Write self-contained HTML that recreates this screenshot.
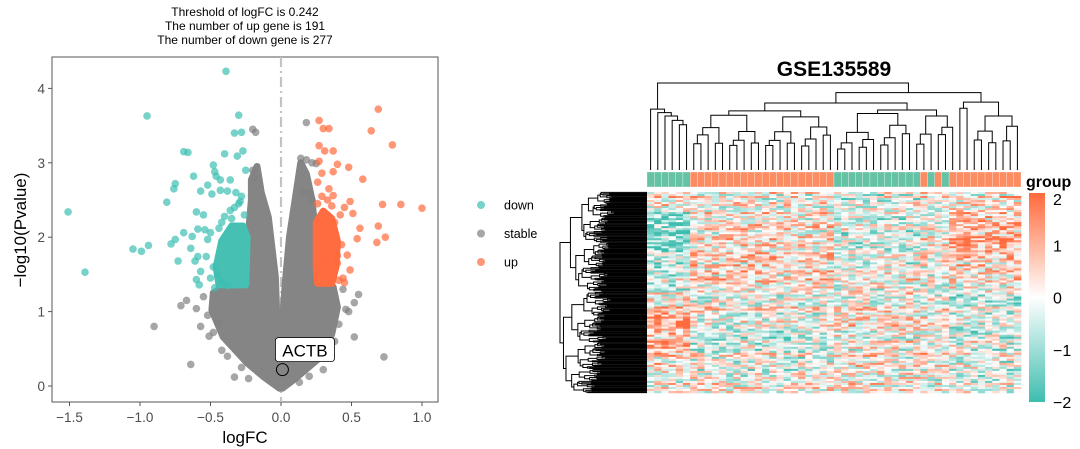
<!DOCTYPE html>
<html><head><meta charset="utf-8">
<style>
html,body{margin:0;padding:0;background:#fff;}
svg{display:block;font-family:"Liberation Sans",Arial,sans-serif;}
</style></head>
<body>
<svg id="root" width="1080" height="449" viewBox="0 0 1080 449" xmlns="http://www.w3.org/2000/svg">
  <rect x="0" y="0" width="1080" height="449" fill="#fff"/>
  <g font-size="12" text-anchor="middle" fill="#000">
    <text x="245" y="16">Threshold of logFC is 0.242</text>
    <text x="245" y="30">The number of up gene is 191</text>
    <text x="245" y="44">The number of down gene is 277</text>
  </g>
  <g id="volcano"></g>
  <text x="834" y="76" font-size="21" font-weight="bold" text-anchor="middle">GSE135589</text>
  <g id="heatmap"></g>
</svg>
<script>
// ---------------- Volcano data ----------------
const downX=[-1.51,-1.39,-0.95,-0.39,-0.30,-0.33,-0.28,-0.69,-0.66,-0.40,-0.27,-0.31,-0.48,-0.47,-0.62,-0.46,-0.43,-0.36,-0.25,-0.75,-0.76,-0.52,-0.57,-0.49,-0.43,-0.38,-0.81,-0.60,-0.55,-1.05,-0.99,-0.94,-0.78,-0.75,-0.69,-0.73,-0.63,-0.64,-0.59,-0.54,-0.50,-0.52,-0.59,-0.53,-0.61,-0.57,-0.60,-0.58,-0.45,-0.48,-0.50,-0.42,-0.35,-0.30,-0.28,-0.32,-0.47,-0.44,-0.40,-0.36,-0.33,-0.29,-0.26,-0.42,-0.38];
const downY=[2.34,1.53,3.63,4.23,3.64,3.40,3.41,3.15,3.14,3.12,3.16,3.09,2.97,2.88,2.82,2.82,2.77,2.77,2.90,2.72,2.65,2.70,2.62,2.58,2.63,2.62,2.47,2.34,2.30,1.84,1.81,1.89,1.91,1.97,2.06,1.68,2.01,1.85,2.11,2.10,2.06,1.97,1.74,1.74,1.68,1.54,1.43,1.36,1.50,1.60,1.45,2.20,2.25,2.45,2.55,2.60,1.32,2.12,2.28,2.36,2.40,2.48,2.30,1.40,1.35];
const upX=[0.69,0.64,0.27,0.30,0.34,0.79,0.27,0.31,0.37,0.27,0.40,0.48,0.29,0.37,0.58,0.26,0.34,0.37,0.72,0.85,1.00,0.69,0.74,0.68,0.49,0.51,0.56,0.54,0.47,0.49,0.40,0.45,0.42,0.45,0.38,0.43,0.40,0.26,0.29,0.33,0.36,0.41,0.44];
const upY=[3.72,3.43,3.57,3.46,3.46,3.24,3.23,3.16,3.16,3.02,2.98,2.94,2.86,2.88,2.78,2.74,2.65,2.56,2.44,2.44,2.39,2.15,2.00,1.93,2.48,2.32,2.12,1.98,1.76,1.56,1.65,1.39,2.30,2.40,2.20,1.90,1.75,2.45,2.55,2.50,2.42,1.42,1.45];
const stableX=[-0.20,-0.18,0.18,0.14,0.18,0.22,0.25,-0.90,-0.64,0.73,0.52,0.55,0.52,0.46,0.41,-0.71,-0.67,-0.60,-0.57,-0.51,-0.48,-0.42,-0.33,-0.23,0.13,0.20,-0.20,-0.19,0.20,0.15,0.22,-0.55,-0.52,-0.45,-0.38,0.44,0.48,0.38,-0.28,0.30];
const stableY=[3.45,3.41,3.54,3.06,3.04,3.00,2.99,0.80,0.29,0.39,0.66,1.23,1.12,1.03,0.83,1.08,1.15,1.04,0.80,0.67,0.72,0.48,0.12,0.10,0.05,0.13,2.90,2.80,2.60,2.60,2.50,1.20,0.95,0.85,0.40,1.30,1.00,0.60,0.25,0.22];
const leftCloudX=[-0.01,-0.12,-0.24,-0.41,-0.49,-0.48,-0.43,-0.30,-0.24,-0.23,-0.21,-0.21,-0.17,-0.14,-0.09,-0.04,-0.03,-0.005];
const leftCloudY=[-0.03,0.12,0.31,0.66,1.02,1.25,1.30,1.33,1.5,2.06,2.5,2.77,2.95,2.6,2.27,1.47,0.93,0.48];
const rightCloudX=[0.01,0.10,0.28,0.36,0.40,0.37,0.26,0.24,0.22,0.18,0.14,0.10,0.06,0.03,0.01,0.005];
const rightCloudY=[-0.03,0.10,0.39,0.70,1.06,1.33,1.40,2.10,2.50,2.85,3.0,2.50,2.00,1.38,0.85,0.40];
const downCloudX=[-0.44,-0.25,-0.24,-0.27,-0.35,-0.42,-0.46];
const downCloudY=[1.36,1.36,2.0,2.15,2.15,1.95,1.60];
const upCloudX=[0.26,0.36,0.39,0.40,0.36,0.30,0.25,0.25];
const upCloudY=[1.38,1.38,1.60,1.95,2.25,2.35,2.20,1.60];
const xTicks=[-1.5,-1.0,-0.5,0.0,0.5,1.0];
const xTickLabels=["\u22121.5","\u22121.0","\u22120.5","0.0","0.5","1.0"];
const yTicks=[0,1,2,3,4];
const yTickLabels=["0","1","2","3","4"];
const legendLabels=["down","stable","up"];
const labelGeneX=[0.01];
const labelGeneY=[0.22];

// ---------------- Heatmap data ----------------
const groupLabels=["teal","teal","teal","teal","teal","teal","o","o","o","o","o","o","o","o","o","o","o","o","o","o","o","o","o","o","o","o","teal","teal","teal","teal","teal","teal","teal","teal","teal","teal","teal","teal","o","teal","o","teal","o","o","o","o","o","o","o","o","o","o"];
const colGroupIndex=[0,0,0,0,0,0,1,1,1,1,1,1,1,1,1,1,1,1,1,1,1,1,1,1,1,1,2,2,2,2,2,2,2,2,2,2,2,2,3,3,3,3,4,4,4,4,4,4,4,4,4,4];
const blockMeans=[
 [0.2,0.1,-0.2,0.0,0.3],
 [-1.3,0.3,-0.3,0.0,0.8],
 [-1.1,0.3,-0.4,0.0,0.9],
 [-0.6,0.4,-0.2,0.0,0.4],
 [-0.5,0.3,0.0,0.0,0.2],
 [0.3,0.0,0.2,0.1,-0.5],
 [1.1,-0.3,0.2,0.0,-0.4],
 [1.0,-0.4,0.1,0.0,-0.3],
 [0.4,-0.2,0.1,0.2,-0.2],
 [0.0,0.0,0.2,0.0,-0.2]
];
const colorbarTicks=[2,1,0,-1,-2];
const colorbarLabels=["2","1","0","\u22121","\u22122"];
const NROWS=100;
const NDENDRO=234;

const NS='http://www.w3.org/2000/svg';
function el(tag,attrs,parent){const e=document.createElementNS(NS,tag);for(const k in attrs)e.setAttribute(k,attrs[k]);parent.appendChild(e);return e;}

// ---------- Volcano ----------
const V=document.getElementById('volcano');
const sx=v=>281+v*141, sy=v=>386-v*74.4;
const box=el('rect',{x:52,y:57,width:386,height:345,fill:'none',stroke:'#555','stroke-width':1},V);


const vline=el('line',{x1:sx(0),x2:sx(0),y1:57,y2:402,stroke:'#c4c4c4','stroke-width':2.2,'stroke-dasharray':'10,4,2,4'},V);


function cloud(xs,ys,color,name){
  const pts=xs.map((x,i)=>sx(x)+','+sy(ys[i])).join(' ');
  const p=el('polygon',{points:pts,fill:color,stroke:color,'stroke-width':7,'stroke-linejoin':'round'},V);
  
  
}
cloud(leftCloudX,leftCloudY,'#858585','stable-cloud-left');
cloud(rightCloudX,rightCloudY,'#858585','stable-cloud-right');
cloud(downCloudX,downCloudY,'#45c0b3','down-cloud');
cloud(upCloudX,upCloudY,'#ff6c40','up-cloud');
function pts(xs,ys,color,name){
  xs.forEach((x,i)=>{
    const c=el('circle',{cx:sx(x),cy:sy(ys[i]),r:3.8,fill:color,'fill-opacity':0.7},V);
    
    
  });
}
pts(stableX,stableY,'#808080','stable-point');
pts(downX,downY,'#3dbfb2','down-point');
pts(upX,upY,'#ff6a3c','up-point');
xTicks.forEach((t,i)=>{
  const l=el('line',{x1:sx(t),x2:sx(t),y1:402,y2:406,stroke:'#555'},V);
  
  
  const tx=el('text',{x:sx(t),y:422,'font-size':13.5,'text-anchor':'middle',fill:'#4d4d4d'},V);
  tx.textContent=xTickLabels[i];
  
  
});
yTicks.forEach((t,i)=>{
  const l=el('line',{x1:48,x2:52,y1:sy(t),y2:sy(t),stroke:'#555'},V);
  
  
  const tx=el('text',{x:45,y:sy(t)+5,'font-size':13.5,'text-anchor':'end',fill:'#4d4d4d'},V);
  tx.textContent=yTickLabels[i];
  
  
});
const xt=el('text',{x:245,y:443,'font-size':17,'text-anchor':'middle'},V);
xt.textContent='logFC';


const yt=el('text',{x:0,y:0,'font-size':17,'text-anchor':'middle',transform:'translate(26,230) rotate(-90)'},V);
yt.textContent='\u2212log10(Pvalue)';


const gx=sx(labelGeneX[0]), gy=sy(labelGeneY[0]);
const gc=el('circle',{cx:gx,cy:gy,r:6,fill:'none',stroke:'#000','stroke-width':1},V);


const lb=el('rect',{x:gx-7,y:gy-32,width:59,height:24,rx:3,fill:'#fff',stroke:'#000','stroke-width':0.8},V);


const lt=el('text',{x:gx+22.5,y:gy-13,'font-size':17,'text-anchor':'middle'},V);
lt.textContent='ACTB';


const legCols=['#3dbfb2','#808080','#ff6a3c'];
legendLabels.forEach((s,i)=>{
  const y=205+i*28.5;
  const c=el('circle',{cx:481,cy:y,r:4,fill:legCols[i],'fill-opacity':0.7},V);
  
  
  const t=el('text',{x:504,y:y+4.5,'font-size':12.5},V);
  t.textContent=s;
  
  
});

// ---------- Heatmap ----------
const H=document.getElementById('heatmap');
const HX0=647,HX1=1021,HY0=192,HY1=393;
const NC=groupLabels.length;
const cw=(HX1-HX0)/NC, rh=(HY1-HY0)/NROWS;
function noise(i,j){let h=(i*374761393+j*668265263)>>>0;h=((h^(h>>>13))*1274126177)>>>0;h=(h^(h>>>16))>>>0;return (h%10000)/5000-1;}
function rowNoise(i){return noise(i,977);}
function colorOf(v){
  v=Math.max(-2,Math.min(2,v));
  let r,g,b;
  if(v>=0){const t=v/2;r=255;g=Math.round(255-t*(255-106));b=Math.round(255-t*(255-60));}
  else{const t=-v/2;r=Math.round(255-t*(255-62));g=Math.round(255-t*(255-189));b=Math.round(255-t*(255-175));}
  return 'rgb('+r+','+g+','+b+')';
}
const cells=el('g',{},H);


for(let i=0;i<NROWS;i++){
  const blk=Math.min(blockMeans.length-1,Math.floor(i/NROWS*blockMeans.length));
  const rb=rowNoise(i)*0.5;
  for(let j=0;j<NC;j++){
    const v=blockMeans[blk][colGroupIndex[j]]+rb+noise(i,j)*1.35;
    const r=el('rect',{x:HX0+j*cw,y:HY0+i*rh,width:cw+0.3,height:rh+0.3,fill:colorOf(v)},cells);
    
    
  }
}
groupLabels.forEach((g,j)=>{
  const r=el('rect',{x:HX0+j*cw,y:172,width:cw,height:15,fill:g==='teal'?'#66c2a5':'#fc8d62',stroke:'#fff','stroke-width':0.3},H);
  
  
});
const gt=el('text',{x:1026,y:187,'font-size':16,'font-weight':'bold'},H);
gt.textContent='group';


const defs=el('defs',{},H);
const lg=el('linearGradient',{id:'cb',x1:0,y1:0,x2:0,y2:1},defs);
[[0,'#ff6a3c'],[0.5,'#ffffff'],[1,'#3ebdaf']].forEach(s=>el('stop',{offset:s[0],'stop-color':s[1]},lg));
const cb=el('rect',{x:1029,y:193,width:16,height:209,fill:'url(#cb)'},H);


colorbarTicks.forEach((t,i)=>{
  let y=193+(2-t)/4*209;
  if(t===2)y=199;
  if(t===-2)y=402;
  const tx=el('text',{x:1053,y:y+6,'font-size':16},H);
  tx.textContent=colorbarLabels[i];
  
  
});
// column dendrogram
const colFactors=[0.86,0.78,0.92,0.7,0.83,0.95,0.74,0.88,0.8,0.9];
let cfi=0;
function autoTree(lo,hi,h){
  if(lo===hi)return {leaf:lo};
  const mid=Math.floor((lo+hi)/2);
  const f1=colFactors[(cfi++)%colFactors.length], f2=colFactors[(cfi++)%colFactors.length];
  return {h:h,l:autoTree(lo,mid,h*f1*0.9),r:autoTree(mid+1,hi,h*f2*0.9)};
}
function chain(lo,hi,hs){
  if(lo===hi)return {leaf:lo};
  return {h:hs[0],l:{leaf:lo},r:chain(lo+1,hi,hs.slice(1))};
}
const colTree={h:1.0,
  l:chain(0,5,[0.70,0.66,0.62,0.57,0.52]),
  r:{h:0.89,
     l:{h:0.77,
        l:{h:0.68,l:autoTree(6,15,0.63),r:autoTree(16,25,0.61)},
        r:{h:0.69,l:autoTree(26,36,0.65),r:autoTree(37,42,0.62)}},
     r:{h:0.78,l:autoTree(43,44,0.71),r:autoTree(45,51,0.62)}}};
const CD=el('g',{stroke:'#000','stroke-width':1,fill:'none'},H);


const cy=h=>170-h*87;
function drawCol(n){
  if(n.leaf!==undefined)return {x:HX0+(n.leaf+0.5)*cw,y:170};
  const a=drawCol(n.l),b=drawCol(n.r),y=cy(n.h);
  el('path',{d:`M${a.x},${a.y}V${y}H${b.x}V${b.y}`},CD);
  return {x:(a.x+b.x)/2,y:y};
}
drawCol(colTree);
// row dendrogram
const rowFactors=[0.88,0.96,0.85,0.93,0.9,0.97,0.84,0.92,0.95,0.87,0.98,0.86];
let rfi=0;
function rowTree(lo,hi,h){
  if(lo===hi)return {leaf:lo};
  const mid=Math.floor((lo+hi)/2+((rfi%3)-1));
  const m=Math.max(lo,Math.min(hi-1,mid));
  const f1=rowFactors[(rfi++)%rowFactors.length], f2=rowFactors[(rfi++)%rowFactors.length];
  return {h:h,l:rowTree(lo,m,h*f1),r:rowTree(m+1,hi,h*f2)};
}
const RD=el('g',{stroke:'#000','stroke-width':1,fill:'none'},H);


const rdh=(HY1-HY0)/NDENDRO;
const rx=h=>HX0-h*87;
function drawRow(n){
  if(n.leaf!==undefined)return {x:HX0,y:HY0+(n.leaf+0.5)*rdh};
  const a=drawRow(n.l),b=drawRow(n.r),x=rx(n.h);
  el('path',{d:`M${a.x},${a.y}H${x}V${b.y}H${b.x}`},RD);
  return {x:x,y:(a.y+b.y)/2};
}
drawRow(rowTree(0,NDENDRO-1,1.0));
</script>
</body></html>
